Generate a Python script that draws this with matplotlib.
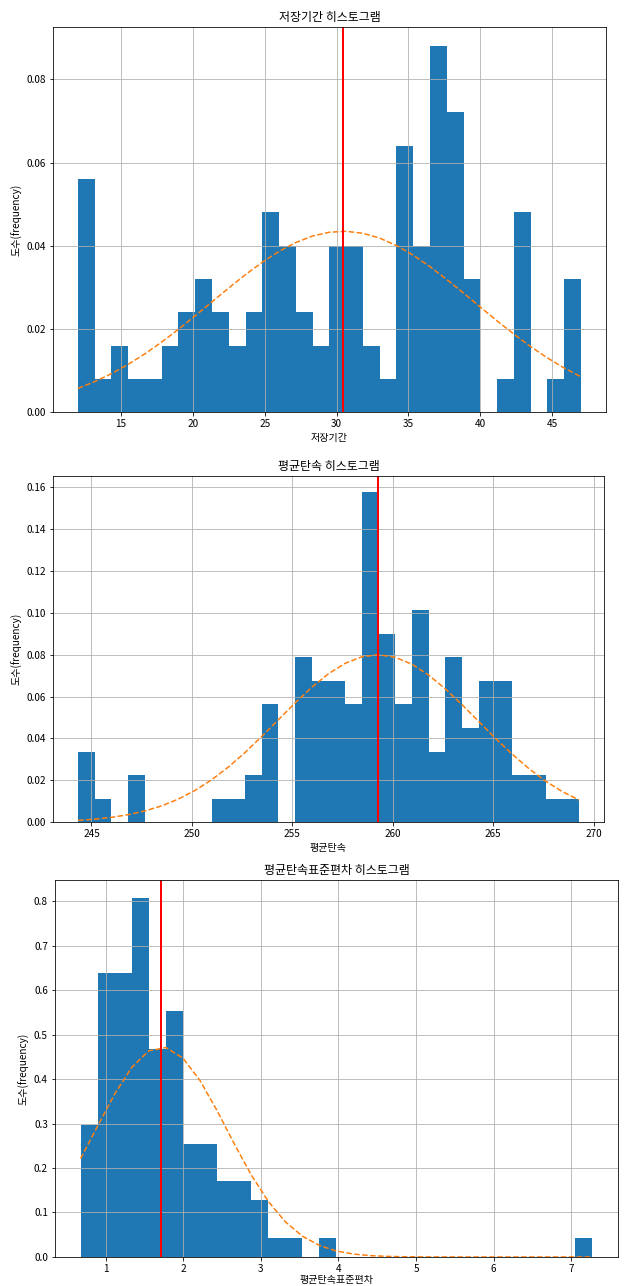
import numpy as np
import matplotlib
matplotlib.use("Agg")
from matplotlib import pyplot as plt

plt.rcParams['font.family'] = ['Noto Sans CJK KR', 'DejaVu Sans']
plt.rcParams['axes.unicode_minus'] = False

# 저장기간: 30 bins between min and max, counts per bin (n=107)
period_range = (12.0, 47.0)
period_counts = [7, 1, 2, 1, 1, 2, 3, 4, 3, 2, 3, 6, 5, 3, 2,
                 5, 5, 2, 1, 8, 5, 11, 9, 4, 0, 1, 6, 0, 1, 4]
period_mean = 30.45
period_std = 9.17

# 평균탄속
speed_range = (244.33, 269.27)
speed_counts = [3, 1, 0, 2, 0, 0, 0, 0, 1, 1, 2, 5, 0, 7, 6,
                6, 5, 14, 8, 5, 9, 3, 7, 4, 6, 6, 2, 2, 1, 1]
speed_mean = 259.25
speed_std = 4.99

# 평균탄속표준편차
speed_sd_range = (0.677, 7.272)
speed_sd_counts = [7, 15, 15, 19, 11, 13, 6, 6, 4, 4, 3, 1, 1, 0, 1,
                   0, 0, 0, 0, 0, 0, 0, 0, 0, 0, 0, 0, 0, 0, 1]
speed_sd_mean = 1.718
speed_sd_std = 0.845

titles = ['저장기간 히스토그램', '평균탄속 히스토그램', '평균탄속표준편차 히스토그램']
xlabels = ['저장기간', '평균탄속', '평균탄속표준편차']


def draw_hist(ax, value_range, counts, mean, std, title, xlabel, labelpad=4.0):
    bins = np.linspace(value_range[0], value_range[1], len(counts) + 1)
    ax.hist(bins[:-1], bins=bins, weights=counts, density=True, color='C0')
    # normal curve evaluated at the bin edges
    y = np.exp(-0.5 * ((bins - mean) / std) ** 2) / (std * np.sqrt(2 * np.pi))
    ax.plot(bins, y, '--', color='C1')
    ax.axvline(mean, color='r', linewidth=2)
    ax.grid(True)
    ax.set_title(title)
    ax.set_xlabel(xlabel, labelpad=labelpad)
    ax.set_ylabel('도수(frequency)')


fig = plt.figure(figsize=(624 / 72, 1286 / 72), dpi=72)
ax1 = fig.add_axes([0.0845, 0.6794, 0.8867, 0.2994])
ax2 = fig.add_axes([0.0849, 0.3606, 0.8830, 0.2693])
ax3 = fig.add_axes([0.0881, 0.0226, 0.9022, 0.2932])

draw_hist(ax1, period_range, period_counts, period_mean, period_std, titles[0], xlabels[0])
draw_hist(ax2, speed_range, speed_counts, speed_mean, speed_std, titles[1], xlabels[1])
draw_hist(ax3, speed_sd_range, speed_sd_counts, speed_sd_mean, speed_sd_std, titles[2], xlabels[2],
          labelpad=1.5)

fig.savefig('out.png', dpi=72)
